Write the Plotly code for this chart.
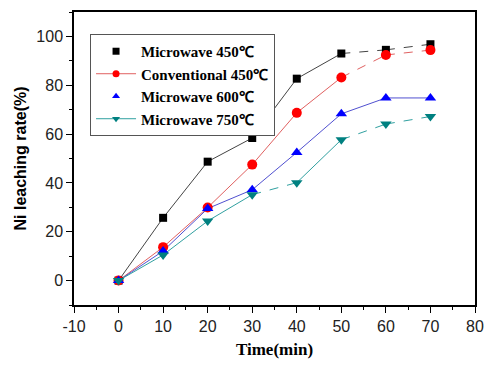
import plotly.graph_objects as go

time = [0, 10, 20, 30, 40, 50, 60, 70]
mw450 = [0, 25.7, 48.7, 58.4, 82.7, 93.0, 94.5, 96.8]
conv450 = [0, 13.7, 29.9, 47.5, 68.7, 83.2, 92.4, 94.4]
mw600 = [0, 12.1, 29.5, 37.2, 52.5, 68.3, 74.8, 74.8]
mw750 = [0, 10.5, 24.4, 35.2, 40.1, 57.7, 64.1, 67.2]

x_ticks = [-10, 0, 10, 20, 30, 40, 50, 60, 70, 80]
x_ticklabels = ["-10", "0", "10", "20", "30", "40", "50", "60", "70", "80"]
y_ticks = [0, 20, 40, 60, 80, 100]

names = ["Microwave 450℃", "Conventional 450℃", "Microwave 600℃", "Microwave 750℃"]
series = [mw450, conv450, mw600, mw750]
colors = ["#000000", "#ff0000", "#0000ff", "#008080"]
linecolors = ["#444444", "#e06060", "#5050d0", "#30a0a0"]
symbols = ["square", "circle", "triangle-up", "triangle-down"]
msizes = [8, 10, 10, 10]
# segment dash styles per series (per interval between points)
dashes = [
    ["solid"] * 5 + ["dash"] * 2,
    ["solid"] * 5 + ["dash"] * 2,
    ["solid"] * 7,
    ["solid"] * 3 + ["dash", "solid", "dash", "dash"],
]
legend_mode = ["markers", "lines+markers", "markers", "lines+markers"]

fig = go.Figure()
for s, ys in enumerate(series):
    for i in range(len(time) - 1):
        fig.add_trace(go.Scatter(
            x=time[i:i + 2], y=ys[i:i + 2], mode="lines",
            line=dict(color=linecolors[s], width=1, dash=dashes[s][i]),
            showlegend=False, hoverinfo="skip"))
for s, ys in enumerate(series):
    fig.add_trace(go.Scatter(
        x=time, y=ys, mode="markers", name=names[s],
        marker=dict(symbol=symbols[s], size=msizes[s], color=colors[s]),
        showlegend=False))
for s in range(len(series)):
    fig.add_trace(go.Scatter(
        x=[None], y=[None], mode=legend_mode[s], name="<b>" + names[s] + "</b>",
        marker=dict(symbol=symbols[s], size=7, color=colors[s]),
        line=dict(color=linecolors[s], width=1)))

axis_common = dict(
    showline=True, linecolor="black", linewidth=1.5, mirror=True,
    ticks="outside", ticklen=6, tickwidth=1.2, tickcolor="black",
    showgrid=False, zeroline=False,
    tickfont=dict(family="Liberation Sans, Arial", size=16, color="#222"),
)
fig.update_xaxes(range=[-10, 80], tickvals=x_ticks, ticktext=x_ticklabels,
                 minor=dict(ticks="outside", ticklen=3, dtick=5, tick0=-5, tickcolor="black"),
                 title=dict(text="<b>Time(min)</b>", standoff=9,
                            font=dict(family="Liberation Serif, Times New Roman", size=17, color="black")),
                 **axis_common)
fig.update_yaxes(range=[-10, 110], tickvals=y_ticks,
                 minor=dict(ticks="outside", ticklen=3, tickvals=[-10, 10, 30, 50, 70, 90, 110], tickcolor="black"),
                 title=dict(text="<b>Ni leaching rate(%)</b>", standoff=6,
                            font=dict(family="Liberation Sans, Arial", size=16, color="black")),
                 **axis_common)

fig.update_layout(
    width=493, height=365,
    margin=dict(l=74, r=9, t=12, b=53),
    plot_bgcolor="white", paper_bgcolor="white",
    legend=dict(x=0.04, y=0.925, xanchor="left", yanchor="top",
                bordercolor="#555", borderwidth=1, bgcolor="white",
                font=dict(family="Liberation Serif, Times New Roman", size=15, color="black"),
                tracegroupgap=0, itemwidth=40),
)
fig.write_html("out.html")
